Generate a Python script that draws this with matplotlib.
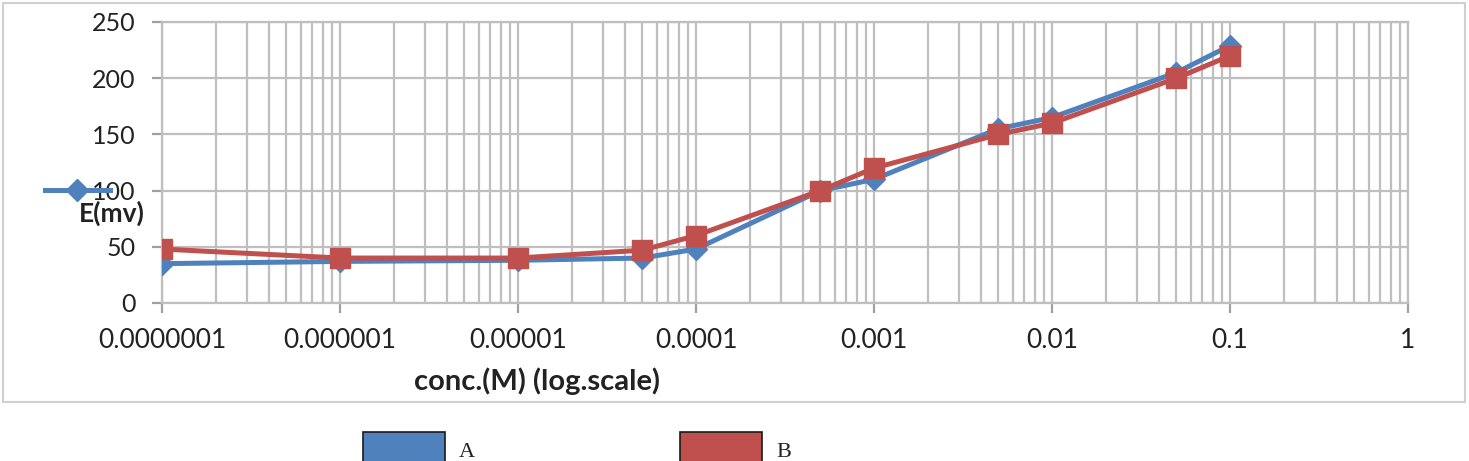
import matplotlib
matplotlib.use("Agg")
import matplotlib.pyplot as plt
from matplotlib.lines import Line2D
from matplotlib.patches import Rectangle
from matplotlib.ticker import LogLocator, FixedLocator, NullFormatter

conc = [1e-7, 1e-6, 1e-5, 5e-5, 1e-4, 5e-4, 1e-3, 5e-3, 1e-2, 5e-2, 1e-1]
e_a = [35, 37, 38, 40, 48, 100, 110, 155, 165, 205, 229]
e_b = [48, 40, 40, 47, 60, 100, 120, 150, 160, 200, 220]
xticks = [1e-7, 1e-6, 1e-5, 1e-4, 1e-3, 1e-2, 1e-1, 1]
xtick_labels = ["0.0000001", "0.000001", "0.00001", "0.0001", "0.001", "0.01", "0.1", "1"]

BLUE = "#4F81BD"
RED = "#C0504D"
GRID = "#BFBFBF"
FONT = "Lato"

fig = plt.figure(figsize=(14.69, 4.61), dpi=100)
W, H = 1469, 461

# outer chart frame
fig.patches.append(Rectangle((3 / W, 1 - 402 / H), 1462 / W, 399 / H,
                             transform=fig.transFigure, fill=False,
                             edgecolor="#D0D0D0", lw=1.5))

ax = fig.add_axes([162 / W, 1 - 303 / H, (1408 - 162) / W, (303 - 22) / H])
ax.plot(conc, e_a, "-D", color=BLUE, lw=3.6, ms=11, zorder=3)
ax.plot(conc, e_b, "-s", color=RED, lw=3.6, ms=15, zorder=4)

ax.set_xscale("log")
ax.set_xlim(1e-7, 1)
ax.set_ylim(0, 250)
ax.xaxis.set_major_locator(FixedLocator(xticks))
ax.xaxis.set_minor_locator(LogLocator(base=10, subs=range(2, 10), numticks=20))
ax.xaxis.set_minor_formatter(NullFormatter())
ax.set_xticklabels(xtick_labels, fontsize=19, family=FONT, color="#222")
ax.set_yticks(range(0, 251, 50))
ax.set_yticklabels([str(v) for v in range(0, 251, 50)], fontsize=18,
                   family=FONT, color="#222")
ax.grid(True, which="major", color=GRID, lw=1.6)
ax.grid(True, which="minor", axis="x", color=GRID, lw=1.6)
for s in ax.spines.values():
    s.set_color(GRID)
    s.set_linewidth(1.6)
ax.tick_params(axis="both", which="major", length=7, width=1.6, color="#A0A0A0")
ax.tick_params(axis="x", which="major", pad=11)
ax.tick_params(axis="y", which="major", pad=12)
ax.tick_params(axis="x", which="minor", length=0)

fig.text(537 / W, 1 - 381 / H, "conc.(M) (log.scale)", fontsize=21, family=FONT,
         fontweight="bold", ha="center", va="center", color="#222")

# stray legend key / axis title overlapping the y tick labels
fig.add_artist(Line2D([45 / W, 110 / W], [1 - 190 / H, 1 - 190 / H], color=BLUE, lw=3.6,
                      transform=fig.transFigure))
fig.add_artist(Line2D([77 / W], [1 - 190 / H], marker="D", ms=11, color=BLUE,
                      transform=fig.transFigure))
fig.text(112 / W, 1 - 213 / H, "E(mv)", fontsize=19, family=FONT, fontweight="bold",
         ha="center", va="center", color="#222")

# bottom legend
for x0, col, lab in [(363, BLUE, "A"), (680, RED, "B")]:
    fig.patches.append(Rectangle((x0 / W, 1 - 462 / H), 82 / W, 30 / H,
                                 transform=fig.transFigure, facecolor=col,
                                 edgecolor="#1a1a1a", lw=1.2))
    fig.text((x0 + 96) / W, 1 - 452 / H, lab, fontsize=16, family="Liberation Serif",
             ha="left", va="center", color="#222")

fig.savefig("out.png", dpi=100)
